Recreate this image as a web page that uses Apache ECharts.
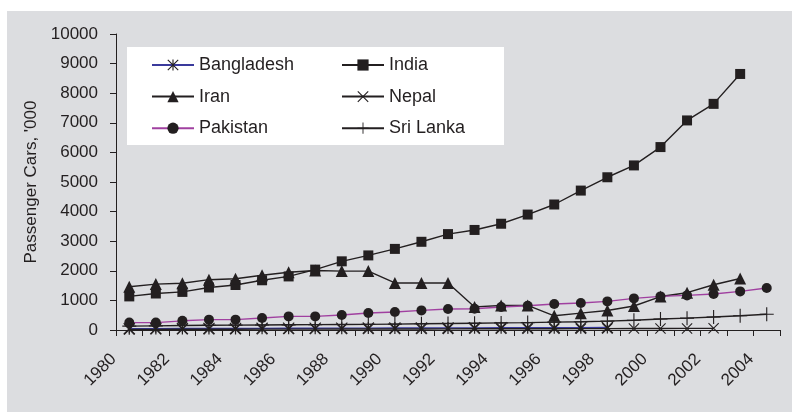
<!DOCTYPE html>
<html>
<head>
<meta charset="utf-8">
<script src="https://cdn.jsdelivr.net/npm/echarts@6/dist/echarts.min.js"></script>
<style>
  html, body { margin: 0; padding: 0; background: #ffffff; }
  #chart { position: absolute; left: 7px; top: 11px; width: 785px; height: 401px; }
</style>
</head>
<body>
<div id="chart"></div>
<script>
// Passenger cars in use, thousands, South Asia 1980-2004
const years = ['1980','1981','1982','1983','1984','1985','1986','1987','1988','1989',
               '1990','1991','1992','1993','1994','1995','1996','1997','1998','1999',
               '2000','2001','2002','2003','2004'];

const bangladesh = [45, 48, 50, 52, 54, 56, 58, 60, 62, 64, 66, 68, 70, 72, 74, 76, 78, 80, 82,
                    null, null, null, null, null, null];
const india = [1135, 1233, 1287, 1436, 1520, 1680, 1810, 2040, 2320, 2520, 2740, 2980, 3240,
               3380, 3590, 3900, 4240, 4710, 5160, 5560, 6180, 7080, 7640, 8650, null];
const iran = [1460, 1550, 1580, 1700, 1730, 1850, 1950, 2010, 1990, 1990, 1590, 1590, 1590,
              780, 830, 830, 480, 570, 660, 810, 1130, 1260, 1530, 1740, null];
const nepal = [20, 22, 24, 25, 26, 28, 30, 31, 32, 34, 35, 36, 38, 40, 41, 42, 44, 46, 48,
               50, 52, 54, 56, null, null];
const pakistan = [250, 250, 310, 350, 350, 405, 460, 460, 507, 574, 608, 662, 709, 720, 777,
                  821, 878, 912, 966, 1068, 1135, 1169, 1216, 1304, 1419];
const sriLanka = [130, 140, 150, 160, 165, 170, 175, 180, 185, 190, 200, 210, 220, 230, 240,
                  250, 265, 280, 300, 330, 370, 400, 440, 480, 530];

const yMin = 0, yMax = 10000, yStep = 1000;

// marker outlines drawn as thin filled shapes on a 20x20 box
const crossX = 'path://M0,1.4L1.4,0L20,18.6L18.6,20Z M18.6,0L20,1.4L1.4,20L0,18.6Z';
const plus = 'path://M9.2,0L10.8,0L10.8,20L9.2,20Z M0,9.2L20,9.2L20,10.8L0,10.8Z';
const star = 'path://M0,1.4L1.4,0L20,18.6L18.6,20Z M18.6,0L20,1.4L1.4,20L0,18.6Z M9,0L11,0L11,20L9,20Z';

const ink = '#231f20';
const font = 'Liberation Sans, Arial, sans-serif';

function makeSeries(name, data, symbol, size, lineColor) {
  return {
    name: name,
    type: 'line',
    data: data,
    symbol: symbol,
    symbolSize: size,
    showAllSymbol: true,
    animation: false,
    itemStyle: { color: ink },
    lineStyle: { color: lineColor, width: 1.4 },
    emphasis: { disabled: true }
  };
}

function legendColumn(left, names) {
  return {
    orient: 'vertical',
    left: left, top: 45,
    padding: 0,
    itemWidth: 42, itemHeight: 14, itemGap: 13.6,
    textStyle: { fontSize: 18, color: ink, fontFamily: font },
    data: names,
    selectedMode: false
  };
}

const chart = echarts.init(document.getElementById('chart'), null, { renderer: 'canvas' });

chart.setOption({
  backgroundColor: '#dcdde0',
  animation: false,
  textStyle: { fontFamily: font, color: ink },
  grid: { left: 109, right: 12, top: 23, bottom: 82, containLabel: false },
  graphic: [{
    type: 'rect',
    left: 120, top: 36, z: 1,
    shape: { width: 377, height: 98 },
    style: { fill: '#ffffff' }
  }],
  legend: [
    legendColumn(144, ['Bangladesh', 'Iran', 'Pakistan']),
    legendColumn(334, ['India', 'Nepal', 'Sri Lanka'])
  ],
  xAxis: {
    type: 'category',
    data: years,
    boundaryGap: true,
    axisLine: { lineStyle: { color: ink, width: 1 } },
    axisTick: { show: true, interval: 0, length: 6, lineStyle: { color: ink } },
    axisLabel: {
      interval: 1, rotate: 45, fontSize: 17, color: ink, margin: 11,
      padding: [0, 22, 0, 0], fontFamily: font
    }
  },
  yAxis: {
    type: 'value',
    min: yMin, max: yMax, interval: yStep,
    name: "Passenger Cars, '000",
    nameLocation: 'middle',
    nameGap: 75,
    nameTextStyle: { fontSize: 17, color: ink, fontFamily: font },
    axisLine: { show: true, lineStyle: { color: ink, width: 1 } },
    axisTick: { show: true, length: 6, lineStyle: { color: ink } },
    axisLabel: {
      fontSize: 17, color: ink, margin: 18, fontFamily: font,
      formatter: function (v) { return String(v); }
    },
    splitLine: { show: false }
  },
  series: [
    makeSeries('Bangladesh', bangladesh, star, 12, '#3a3a9c'),
    makeSeries('India', india, 'rect', 10, ink),
    makeSeries('Iran', iran, 'triangle', 12, ink),
    makeSeries('Nepal', nepal, crossX, 11, ink),
    makeSeries('Pakistan', pakistan, 'circle', 10, '#a040a0'),
    makeSeries('Sri Lanka', sriLanka, plus, 14, ink)
  ]
});
</script>
</body>
</html>
